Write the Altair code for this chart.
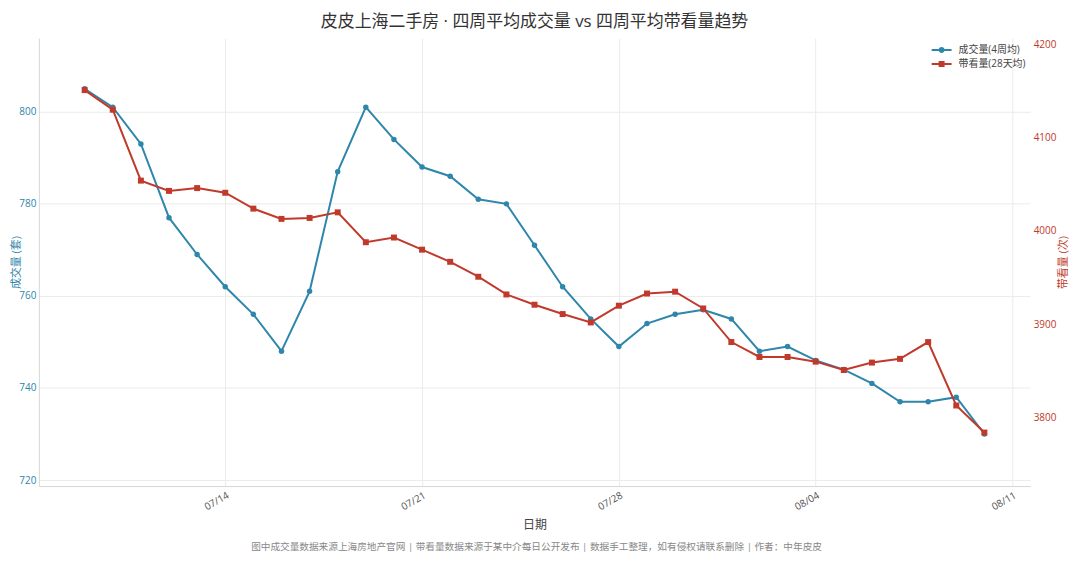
import altair as alt
import pandas as pd

FONT = "Open Sans, Noto Sans CJK SC, sans-serif"
BLUE = "#2E86AB"
RED = "#C0392B"

dates = [
    "2024-07-09", "2024-07-10", "2024-07-11", "2024-07-12", "2024-07-13", "2024-07-14",
    "2024-07-15", "2024-07-16", "2024-07-17", "2024-07-18", "2024-07-19", "2024-07-20",
    "2024-07-21", "2024-07-22", "2024-07-23", "2024-07-24", "2024-07-25", "2024-07-26",
    "2024-07-27", "2024-07-28", "2024-07-29", "2024-07-30", "2024-07-31", "2024-08-01",
    "2024-08-02", "2024-08-03", "2024-08-04", "2024-08-05", "2024-08-06", "2024-08-07",
    "2024-08-08", "2024-08-09", "2024-08-10",
]
deals = [805, 801, 793, 777, 769, 762, 756, 748, 761, 787, 801, 794, 788, 786, 781, 780,
         771, 762, 755, 749, 754, 756, 757, 755, 748, 749, 746, 744, 741, 737, 737, 738, 730]
views = [4151, 4130, 4054, 4043, 4046, 4041, 4024, 4013, 4014, 4020, 3988, 3993, 3980,
         3967, 3951, 3932, 3921, 3911, 3902, 3920, 3933, 3935, 3917, 3881, 3865, 3865,
         3860, 3851, 3859, 3863, 3881, 3813, 3784]
series_names = ["成交量(4周均)", "带看量(28天均)"]
left_ticks = [720, 740, 760, 780, 800]
right_ticks = [3800, 3900, 4000, 4100, 4200]
title_text = "皮皮上海二手房 · 四周平均成交量 vs 四周平均带看量趋势"
footer_text = "图中成交量数据来源上海房地产官网 | 带看量数据来源于某中介每日公开发布 | 数据手工整理，如有侵权请联系删除 | 作者：中年皮皮"

df = pd.DataFrame({"date": [d + "T00:00:00" for d in dates], "deals": deals, "views": views})

x_enc = alt.X(
    "date:T",
    scale=alt.Scale(domain=[alt.DateTime(year=2024, month=7, date=7, hours=8, minutes=54),
                            alt.DateTime(year=2024, month=8, date=11, hours=15, minutes=6)]),
    axis=alt.Axis(
        values=[alt.DateTime(year=2024, month=7, date=14), alt.DateTime(year=2024, month=7, date=21),
                alt.DateTime(year=2024, month=7, date=28), alt.DateTime(year=2024, month=8, date=4),
                alt.DateTime(year=2024, month=8, date=11)],
        format="%m/%d", labelAngle=330, title="日期", ticks=False, labelPadding=4,
        labelColor="#555", labelFontSize=10, titleFontSize=12, titleColor="#444",
        titleFontWeight="normal", titlePadding=8, domainColor="#d6d6d6",
    ),
)

y_left = alt.Y(
    "deals:Q",
    scale=alt.Scale(domain=[718.7, 816.0], nice=False, zero=False),
    axis=alt.Axis(values=left_ticks, format="d", title="成交量 (套)", orient="left", ticks=False,
                  labelPadding=3, labelColor=BLUE, labelFontSize=10, titleColor=BLUE,
                  titleFontSize=11, titleFontWeight="normal", titleX=-22,
                  titleBaseline="middle", domainColor="#d6d6d6"),
)
y_right = alt.Y(
    "views:Q",
    scale=alt.Scale(domain=[3726.7, 4206.7], nice=False, zero=False),
    axis=alt.Axis(values=right_ticks, format="d", title="带看量 (次)", orient="right", ticks=False,
                  labelPadding=3, labelColor=RED, labelFontSize=10, titleColor=RED,
                  titleFontSize=11, titleFontWeight="normal", titleX=33,
                  titleBaseline="middle", titleAngle=270, domain=False),
)

base = alt.Chart(df)
blue = alt.layer(
    base.mark_line(color=BLUE, strokeWidth=2).encode(x=x_enc, y=y_left),
    base.mark_point(filled=True, shape="circle", size=30, color=BLUE, opacity=1).encode(x=x_enc, y=y_left),
)
red = alt.layer(
    base.mark_line(color=RED, strokeWidth=2).encode(x=x_enc, y=y_right),
    base.mark_point(filled=True, shape="square", size=36, color=RED, opacity=1).encode(x=x_enc, y=y_right),
)

path_circle = "M-2,-0.2H2V0.2H-2Z M-0.6,0A0.6,0.6 0 1,1 0.6,0A0.6,0.6 0 1,1 -0.6,0Z"
path_square = "M-2,-0.2H2V0.2H-2Z M-0.6,-0.6H0.6V0.6H-0.6Z"
leg = alt.Legend(title=None, orient="none", legendX=902, legendY=7, padding=0,
                 symbolSize=100, labelOffset=12, labelFontSize=10, labelColor="#444",
                 labelFont=FONT, rowPadding=4, symbolStrokeWidth=0)
legend_layer = alt.Chart(pd.DataFrame({"s": series_names})).transform_filter("false").mark_point(
    filled=True, opacity=1, size=100
).encode(
    color=alt.Color("s:N", scale=alt.Scale(domain=series_names, range=[BLUE, RED]), legend=leg),
    shape=alt.Shape("s:N", scale=alt.Scale(domain=series_names, range=[path_circle, path_square]), legend=leg),
)

footer = alt.Chart(pd.DataFrame({"t": [footer_text]})).mark_text(
    fontSize=9.7, color="#888", font=FONT, baseline="middle"
).encode(text="t:N", x=alt.value(500), y=alt.value(511))

chart = alt.layer(blue, red, legend_layer, footer).resolve_scale(y="independent").properties(
    width=996, height=450, autosize="none",
    padding={"left": 31, "top": 29, "right": 42, "bottom": 66},
    title=alt.Title(title_text, fontSize=17, color="#333", fontWeight="normal", font=FONT,
                    anchor="middle", offset=7),
).configure_view(stroke=None).configure_axis(
    labelFont=FONT, titleFont=FONT, gridColor="#ebebeb", gridWidth=1
)

chart.save("out.html", embed_options={"renderer": "svg", "actions": False})
